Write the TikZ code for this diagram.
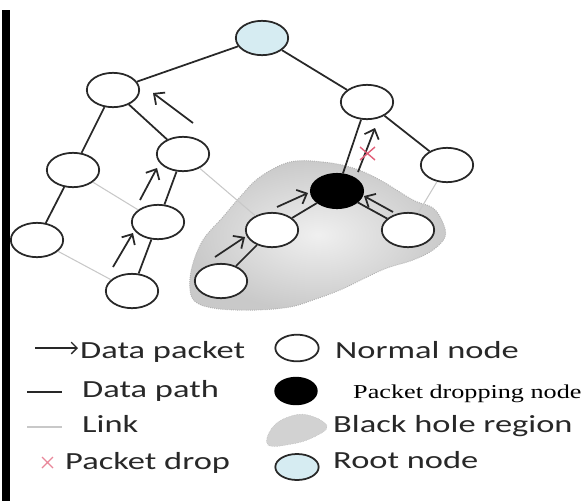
\documentclass[tikz,border=0pt]{standalone}
\usepackage{fontspec}
\usepackage{tikz}
\usetikzlibrary{shapes.geometric, arrows.meta}
\newfontfamily\legendfont[FakeStretch=1.4]{Carlito}
\newfontfamily\dropfont[FakeStretch=1.33]{Liberation Serif}
\definecolor{nodeline}{RGB}{40,40,40}
\definecolor{linkgray}{RGB}{200,200,200}
\definecolor{rootblue}{RGB}{214,236,242}
\definecolor{dropred}{RGB}{225,95,120}
\definecolor{legendtext}{RGB}{40,40,40}

\begin{document}
\begin{tikzpicture}[x=0.03cm, y=-0.03cm,
  netnode/.style={ellipse, draw=nodeline, line width=1.5pt, fill=white, minimum width=1.57cm, minimum height=1.03cm, inner sep=0pt},
  rootnode/.style={netnode, fill=rootblue},
  dropnode/.style={netnode, fill=black, draw=black},
  datapath/.style={nodeline, line width=1.5pt},
  link/.style={linkgray, line width=0.9pt},
  packet/.style={-{Straight Barb[length=7pt,width=13pt]}, nodeline, line width=1.5pt},
  legendlabel/.style={anchor=base west, inner sep=0pt, text=legendtext, font=\legendfont\fontsize{21}{24}\selectfont}]
  \useasboundingbox (0,0) rectangle (585,501);
  \fill[black] (2,10) rectangle (10,501);

  % black hole region
  \shadedraw[inner color=gray!12, outer color=gray!42, draw=gray!60, densely dotted, line width=0.8pt]
    plot[smooth cycle, tension=0.6] coordinates {(290,162) (323,162) (353,168) (380,180) (413,200) (433,208) (443,223) (445,237) (433,250) (413,260) (387,268) (367,277) (340,290) (313,300) (290,307) (257,310) (220,309) (197,303) (190,290) (192,267) (203,240) (223,217) (240,197) (260,177)};

  % network
  \node[rootnode] (R) at (262,38) {};
  \foreach \n/\x/\y in {A/113/90, B/73/170, C/37/240, D/183/154, E/158/222, F/132/291,
                        G/221/281, H/272/230, I/367/102, J/447/165, L/408/230}
    \node[netnode] (\n) at (\x,\y) {};
  \node[dropnode] (K) at (337,191) {};

  \foreach \a/\b in {B/E, C/F, D/H, J/L}
    \draw[link] (\a) -- (\b);
  \foreach \a/\b in {R/A, R/I, A/B, B/C, A/D, D/E, E/F, I/J, I/K, K/H, H/G, K/L}
    \draw[datapath] (\a) -- (\b);

  % data packets
  \draw[packet] (193,123) -- (153,93);
  \draw[packet] (140,200) -- (157,168);
  \draw[packet] (113,267) -- (133,233);
  \draw[packet] (215,257) -- (245,237);
  \draw[packet] (277,207) -- (308,193);
  \draw[packet] (393,212) -- (364,196);
  \draw[packet] (358,172) -- (375,128);
  \draw[dropred, line width=1.2pt] (360,147) -- (375,160) (360,160) -- (375,147);

  % legend
  \draw[packet, -{Straight Barb[length=5pt,width=10pt]}, line width=1.1pt] (35,348) -- (78,348);
  \draw[datapath] (27,392) -- (62,392);
  \draw[link] (27,427) -- (62,427);
  \draw[dropred!75, line width=1pt] (42,457) -- (53,468) (42,468) -- (53,457);
  \node[legendlabel] (tpacket) at (80,358) {Data packet};
  \node[legendlabel] (tpath) at (82,397) {Data path};
  \node[legendlabel] (tlink) at (82,432) {Link};
  \node[legendlabel] (tdrop) at (65,469) {Packet drop};

  \node[netnode, minimum width=1.3cm, minimum height=0.8cm] (lnormal) at (297,348) {};
  \node[dropnode, minimum width=1.25cm, minimum height=0.8cm] (lblack) at (296,391) {};
  \filldraw[fill=gray!35, draw=gray!60, densely dotted] plot[smooth cycle, tension=0.7]
    coordinates {(268,445) (272,428) (288,417) (308,415) (327,426) (314,437) (292,444)};
  \node[rootnode, minimum width=1.3cm, minimum height=0.78cm] (lroot) at (297,467) {};
  \node[legendlabel] (tnormal) at (335,358) {Normal node};
  \node[legendlabel, text=black, font=\dropfont\fontsize{16.8}{20}\selectfont] (tdropnode) at (353,398) {Packet dropping node};
  \node[legendlabel] (tregion) at (333,432) {Black hole region};
  \node[legendlabel] (troot) at (333,468) {Root node};
\end{tikzpicture}
\end{document}
